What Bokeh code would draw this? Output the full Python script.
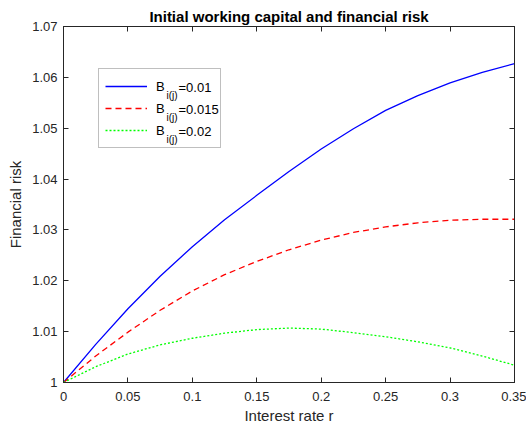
from bokeh.plotting import figure
from bokeh.models import Range1d, FixedTicker, LinearAxis, Legend, LegendItem, Label
from bokeh.embed import file_html
from bokeh.resources import INLINE

# ---- data ----
interest_rate = [0.0, 0.025, 0.05, 0.075, 0.1, 0.125, 0.15, 0.175, 0.2,
                 0.225, 0.25, 0.275, 0.3, 0.325, 0.35]
risk_b_001 = [1.0, 1.0075, 1.0145, 1.0209, 1.0267, 1.0320, 1.0368, 1.0415,
              1.0459, 1.0499, 1.0535, 1.0564, 1.0589, 1.0610, 1.0627]
risk_b_0015 = [1.0, 1.0052, 1.0099, 1.0142, 1.0180, 1.0212, 1.0238, 1.0261,
               1.0280, 1.0295, 1.0306, 1.0314, 1.0319, 1.0321, 1.0321]
risk_b_002 = [1.0, 1.0031, 1.0056, 1.0074, 1.0087, 1.0097, 1.0104, 1.0107,
              1.0105, 1.0098, 1.0090, 1.0080, 1.0068, 1.0052, 1.0034]

series_values = ["=0.01", "=0.015", "=0.02"]
series_colors = ["#0000ff", "#ff0000", "#00ff00"]
series_dashes = ["solid", "6 4", "2 2"]

x_ticks = [0.0, 0.05, 0.1, 0.15, 0.2, 0.25, 0.3, 0.35]
x_tick_labels = ["0", "0.05", "0.1", "0.15", "0.2", "0.25", "0.3", "0.35"]
y_ticks = [1.0, 1.01, 1.02, 1.03, 1.04, 1.05, 1.06, 1.07]
y_tick_labels = ["1", "1.01", "1.02", "1.03", "1.04", "1.05", "1.06", "1.07"]

FONT = "Liberation Sans"
AX = "#262626"

p = figure(width=526, height=430, output_backend="svg", toolbar_location=None,
           x_range=Range1d(0, 0.35), y_range=Range1d(1.0, 1.07),
           x_axis_label="Interest rate r", y_axis_label="Financial risk",
           min_border_left=63, min_border_right=12, min_border_top=26,
           min_border_bottom=48)
p.background_fill_color = "white"
p.border_fill_color = "white"
p.grid.visible = False
p.outline_line_color = AX

p.title.text = "Initial working capital and financial risk"
p.title.align = "center"
p.title.text_font = FONT
p.title.text_font_size = "15px"
p.title.text_font_style = "bold"
p.title.text_color = "#000000"
p.title.standoff = 4
p.title.offset = 0

ys = [risk_b_001, risk_b_0015, risk_b_002]
renderers = []
for yv, col, dash in zip(ys, series_colors, series_dashes):
    r = p.line(interest_rate, yv, line_color=col, line_width=1.3, line_dash=dash)
    renderers.append(r)

def style_axis(ax, ticks, labels, show_labels=True):
    ax.ticker = FixedTicker(ticks=ticks)
    ax.axis_line_color = AX
    ax.major_tick_line_color = AX
    ax.major_tick_in = 5
    ax.major_tick_out = 0
    ax.minor_tick_line_color = None
    if show_labels:
        ax.major_label_overrides = {t: s for t, s in zip(ticks, labels)}
        ax.major_label_text_font = FONT
        ax.major_label_text_font_size = "13px"
        ax.major_label_text_color = AX
        ax.axis_label_text_font = FONT
        ax.axis_label_text_font_size = "15px"
        ax.axis_label_text_font_style = "normal"
        ax.axis_label_text_color = AX
    else:
        ax.major_label_overrides = {t: "" for t in ticks}
        ax.major_label_text_font_size = "0px"
        ax.major_label_standoff = 0

style_axis(p.xaxis[0], x_ticks, x_tick_labels)
style_axis(p.yaxis[0], y_ticks, y_tick_labels)
p.xaxis[0].major_label_standoff = 9
p.xaxis[0].axis_label_standoff = 3
p.yaxis[0].major_label_standoff = 6
p.yaxis[0].axis_label_standoff = 5

top_ax = LinearAxis()
right_ax = LinearAxis()
style_axis(top_ax, x_ticks, x_tick_labels, show_labels=False)
style_axis(right_ax, y_ticks, y_tick_labels, show_labels=False)
p.add_layout(top_ax, "above")
p.add_layout(right_ax, "right")

items = [LegendItem(label="B", renderers=[r]) for r in renderers]
legend = Legend(items=items, location=(35, 234), orientation="vertical",
                padding=6, spacing=0, margin=0,
                glyph_width=42, glyph_height=22, label_height=22,
                label_width=58, label_standoff=9,
                border_line_color="#808080", border_line_width=1,
                background_fill_alpha=0.0,
                label_text_font=FONT, label_text_font_size="13px",
                label_text_color="#000000")
p.add_layout(legend)

for i, txt in enumerate(series_values):
    yc = 295 - 22 * i
    p.add_layout(Label(x=103, y=yc - 8, x_units="screen", y_units="screen",
                       text="i(j)", text_font=FONT, text_font_size="10px",
                       text_color="#000000", text_baseline="middle",
                       level="overlay"))
    p.add_layout(Label(x=115, y=yc, x_units="screen", y_units="screen",
                       text=txt, text_font=FONT, text_font_size="13px",
                       text_color="#000000", text_baseline="middle",
                       level="overlay"))

open("out.html", "w").write(file_html(p, INLINE))
